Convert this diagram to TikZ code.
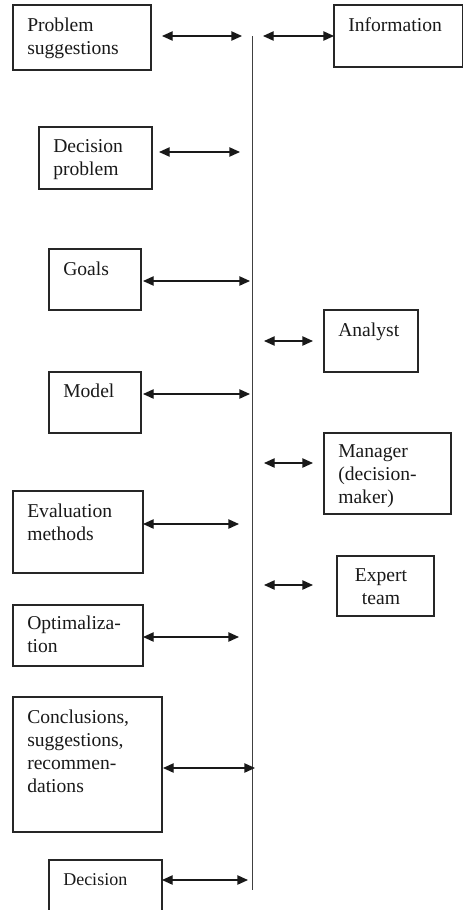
\documentclass[tikz,border=0pt]{standalone}
\usepackage{fontspec}
\setmainfont{Liberation Serif}
\usetikzlibrary{arrows.meta,fit}
\begin{document}
\begin{tikzpicture}[x=0.75pt,y=-0.75pt,
  box/.style={draw=black!85, line width=1pt, inner sep=0pt, outer sep=0pt},
  lbl/.style={inner sep=0pt, anchor=north west, align=left,
    font=\fontsize{14.7}{17.3}\selectfont, text=black!90},
  link/.style={line width=1pt, draw=black!90,
    {Triangle[length=8pt,width=7pt]}-{Triangle[length=8pt,width=7pt]}},
  spine/.style={draw=black!75, line width=1.4pt}]
\useasboundingbox (0,0) rectangle (463,910);
\clip (0,0) rectangle (463,910);

% central axis
\coordinate (top) at (252.5,36);
\coordinate (bot) at (252.5,890);
\draw[spine] (top) -- (bot);

% left column of process steps
\node[box, fit={(13,5) (151,70)}] (ps) {};
\node[lbl] (tps) at (27,17.5) {Problem\\suggestions};
\node[box, fit={(39,127) (152,189)}] (dp) {};
\node[lbl] (tdp) at (53,139.5) {Decision\\problem};
\node[box, fit={(49,249) (141,310)}] (go) {};
\node[lbl] (tgo) at (63,261.5) {Goals};
\node[box, fit={(49,372) (141,433)}] (mo) {};
\node[lbl] (tmo) at (63,383.5) {Model};
\node[box, fit={(13,491) (143,573)}] (ev) {};
\node[lbl] (tev) at (27,503.5) {Evaluation\\methods};
\node[box, fit={(13,605) (143,666)}] (op) {};
\node[lbl] (top2) at (27,615.5) {Optimaliza-\\tion};
\node[box, fit={(13,697) (162,832)}] (co) {};
\node[lbl] (tco) at (27,709.5) {Conclusions,\\suggestions,\\recommen-\\dations};
\node[box, fit={(49,860) (162,940)}] (de) {};
\node[lbl, font=\fontsize{13.5}{16}\selectfont] (tde) at (63,873) {Decision};

% right column of participants
\node[box, fit={(334,5) (462.5,67)}] (in) {};
\node[lbl] (tin) at (348,17.5) {Information};
\node[box, fit={(324,310) (418,372)}] (an) {};
\node[lbl] (tan) at (338,322.5) {Analyst};
\node[box, fit={(324,433) (451,514)}] (ma) {};
\node[lbl] (tma) at (338,444) {Manager\\(decision-\\maker)};
\node[box, fit={(337,556) (434,616)}] (ex) {};
\node[lbl, anchor=north, align=center] (tex) at (381,568.5) {Expert\\team};

% arrow ends next to the axis
\coordinate (e1) at (242,36);
\coordinate (e2) at (263,36);
\coordinate (e3) at (240,152);
\coordinate (e4) at (250,281);
\coordinate (e5) at (264,341);
\coordinate (e6) at (250,394);
\coordinate (e7) at (264,463);
\coordinate (e8) at (239,524);
\coordinate (e9) at (264,585);
\coordinate (e10) at (239,637);
\coordinate (e11) at (255,768);
\coordinate (e12) at (248,880);

% links between the steps and the axis
\draw[link, shorten <=8.25pt] (ps.east |- e1) -- (e1);
\draw[link, shorten <=5.25pt] (dp.east |- e3) -- (e3);
\draw[link, shorten <=1.5pt] (go.east |- e4) -- (e4);
\draw[link, shorten <=1.5pt] (mo.east |- e6) -- (e6);
\draw[link] (ev.east |- e8) -- (e8);
\draw[link] (op.east |- e10) -- (e10);
\draw[link, shorten <=0.75pt] (co.east |- e11) -- (e11);
\draw[link] (de.east |- e12) -- (e12);

% links between the axis and the participants
\draw[link] (e2) -- (in.west |- e2);
\draw[link, shorten >=8.25pt] (e5) -- (an.west |- e5);
\draw[link, shorten >=8.25pt] (e7) -- (ma.west |- e7);
\draw[link, shorten >=18pt] (e9) -- (ex.west |- e9);
\end{tikzpicture}
\end{document}
